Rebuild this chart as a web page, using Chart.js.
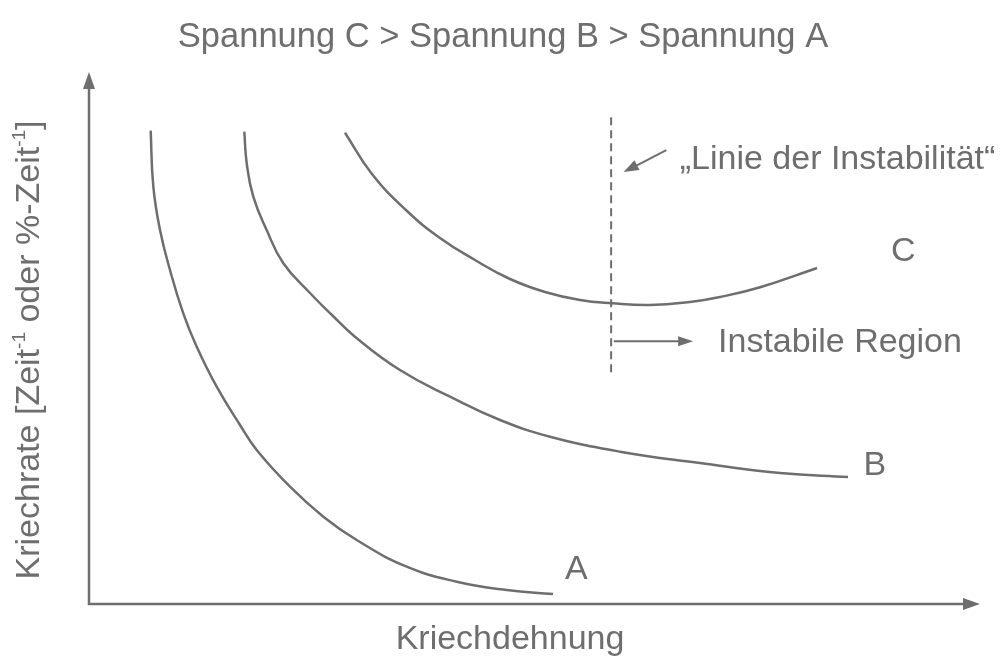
<!DOCTYPE html>
<html>
<head>
<meta charset="utf-8">
<script src="https://cdn.jsdelivr.net/npm/chart.js@4.4.1/dist/chart.umd.min.js"></script>
<style>
  html, body { margin: 0; padding: 0; background: #fff; }
  #wrap { width: 1002px; height: 661px; position: relative; }
</style>
</head>
<body>
<div id="wrap"><canvas id="creep"></canvas></div>
<script>
// Kriechkurven (schematic): Kriechdehnung (x) vs. Kriechrate (y), 0..100 units
const curveA = [
    { x: 6.92, y: 88.97 }, { x: 7.22, y: 78.44 }, { x: 7.97, y: 70.30 }, { x: 9.09, y: 62.78 },
    { x: 10.58, y: 54.64 }, { x: 12.09, y: 48.36 }, { x: 14.33, y: 40.85 }, { x: 16.95, y: 33.65 },
    { x: 18.82, y: 28.95 }, { x: 22.56, y: 22.05 }, { x: 26.30, y: 16.41 }, { x: 30.04, y: 12.03 },
    { x: 35.66, y: 7.01 }, { x: 41.27, y: 4.19 }, { x: 46.88, y: 2.63 }, { x: 52.08, y: 1.88 }
];
const curveB = [
    { x: 17.43, y: 88.78 }, { x: 17.70, y: 82.84 }, { x: 18.44, y: 76.56 }, { x: 19.94, y: 70.30 },
    { x: 21.81, y: 64.04 }, { x: 24.80, y: 58.46 }, { x: 27.27, y: 54.32 }, { x: 29.85, y: 50.24 },
    { x: 34.90, y: 43.98 }, { x: 40.52, y: 38.97 }, { x: 46.13, y: 34.59 }, { x: 51.74, y: 31.45 },
    { x: 59.60, y: 28.63 }, { x: 68.57, y: 26.50 }, { x: 77.55, y: 24.62 }, { x: 85.19, y: 23.87 }
];
const curveC = [
    { x: 28.73, y: 88.59 }, { x: 31.76, y: 80.83 }, { x: 35.69, y: 73.87 }, { x: 39.39, y: 68.80 },
    { x: 43.32, y: 64.66 }, { x: 47.25, y: 61.09 }, { x: 51.18, y: 58.65 }, { x: 55.11, y: 57.14 },
    { x: 58.70, y: 56.52 }, { x: 62.96, y: 56.20 }, { x: 67.45, y: 56.77 }, { x: 70.82, y: 57.71 },
    { x: 75.42, y: 59.59 }, { x: 81.71, y: 63.16 }
];
const seriesNames = ['A', 'B', 'C'];
const instabilityX = 58.6;           // "Linie der Instabilität"
const instabilitySpan = [43.0, 91.5];

const titleText = 'Spannung C > Spannung B > Spannung A';
const xTitle = 'Kriechdehnung';

const ink = '#6e6e6e';
const font = '"Liberation Sans", Arial, sans-serif';

function arrowHead(c, x1, y1, x2, y2, len, half) {
    const a = Math.atan2(y2 - y1, x2 - x1);
    c.beginPath();
    c.moveTo(x2, y2);
    c.lineTo(x2 - len * Math.cos(a) + half * Math.sin(a), y2 - len * Math.sin(a) - half * Math.cos(a));
    c.lineTo(x2 - len * Math.cos(a) - half * Math.sin(a), y2 - len * Math.sin(a) + half * Math.cos(a));
    c.closePath();
    c.fill();
}

const decor = {
    id: 'decor',
    beforeDatasetsDraw(chart) {
        const c = chart.ctx, a = chart.chartArea;
        const xs = chart.scales.x, ys = chart.scales.y;
        c.save();
        c.strokeStyle = ink; c.fillStyle = ink;

        // axes with arrow heads
        c.lineWidth = 2.5;
        c.beginPath();
        c.moveTo(a.left, a.top + 10); c.lineTo(a.left, a.bottom); c.lineTo(a.right - 10, a.bottom);
        c.stroke();
        arrowHead(c, a.left, a.bottom, a.left, a.top, 17, 6);
        arrowHead(c, a.left, a.bottom, a.right, a.bottom, 17, 6);

        // dashed line of instability
        const dx = xs.getPixelForValue(instabilityX);
        c.lineWidth = 2;
        c.setLineDash([8, 5]);
        c.beginPath();
        c.moveTo(dx, ys.getPixelForValue(instabilitySpan[1]));
        c.lineTo(dx, ys.getPixelForValue(instabilitySpan[0]));
        c.stroke();
        c.setLineDash([]);

        // pointer to the line
        const p1 = [xs.getPixelForValue(64.8), ys.getPixelForValue(85.3)];
        const p2 = [xs.getPixelForValue(60.0), ys.getPixelForValue(81.2)];
        c.lineWidth = 2;
        c.beginPath(); c.moveTo(p1[0], p1[1]); c.lineTo(p2[0] + 6, p2[1] - 3); c.stroke();
        arrowHead(c, p1[0], p1[1], p2[0], p2[1], 15, 5.5);

        // arrow into unstable region
        const q1 = [xs.getPixelForValue(58.9), ys.getPixelForValue(49.4)];
        const q2 = [xs.getPixelForValue(67.8), ys.getPixelForValue(49.4)];
        c.beginPath(); c.moveTo(q1[0], q1[1]); c.lineTo(q2[0] - 8, q2[1]); c.stroke();
        arrowHead(c, q1[0], q1[1], q2[0], q2[1], 15, 5);

        // texts
        c.font = '34px ' + font;
        c.textBaseline = 'middle';
        c.textAlign = 'left';
        c.fillText('\u201ELinie der Instabilit\u00E4t\u201C', xs.getPixelForValue(66.3), ys.getPixelForValue(83.5));
        c.fillText('Instabile Region', xs.getPixelForValue(70.6), ys.getPixelForValue(49.1));
        c.textAlign = 'center';
        const labelPos = [[54.7, 6.4], [88.2, 26.1], [91.4, 66.2]];
        seriesNames.forEach((n, i) => {
            c.fillText(n, xs.getPixelForValue(labelPos[i][0]), ys.getPixelForValue(labelPos[i][1]));
        });

        c.font = '34.5px ' + font;
        c.fillText(titleText, chart.width / 2 + 2, 37);
        c.font = '34px ' + font;
        c.fillText(xTitle, 510, 640);

        // rotated y title with superscripts
        c.translate(30, 350);
        c.rotate(-Math.PI / 2);
        const parts = [['Kriechrate [Zeit', 0], ['-1', 1], [' oder %-Zeit', 0], ['-1', 1], [']', 0]];
        const big = '34px ' + font, small = '19px ' + font;
        let total = 0;
        parts.forEach(p => { c.font = p[1] ? small : big; total += c.measureText(p[0]).width; });
        let x = -total / 2;
        c.textAlign = 'left';
        parts.forEach(p => {
            c.font = p[1] ? small : big;
            c.fillText(p[0], x, p[1] ? -10 : 0);
            x += c.measureText(p[0]).width;
        });
        c.restore();
    }
};

function lineSet(label, data) {
    return {
        label, data, showLine: true, fill: false,
        borderColor: ink, borderWidth: 2.5, pointRadius: 0,
        tension: 0.45
    };
}

new Chart(document.getElementById('creep'), {
    type: 'scatter',
    data: {
        datasets: [lineSet('A', curveA), lineSet('B', curveB), lineSet('C', curveC)]
    },
    options: {
        responsive: true,
        maintainAspectRatio: false,
        animation: false,
        layout: { padding: { left: 89, right: 22, top: 72, bottom: 57 } },
        plugins: { legend: { display: false }, tooltip: { enabled: false }, title: { display: false } },
        scales: {
            x: { type: 'linear', display: false, min: 0, max: 100 },
            y: { type: 'linear', display: false, min: 0, max: 100 }
        }
    },
    plugins: [decor]
});
</script>
</body>
</html>
